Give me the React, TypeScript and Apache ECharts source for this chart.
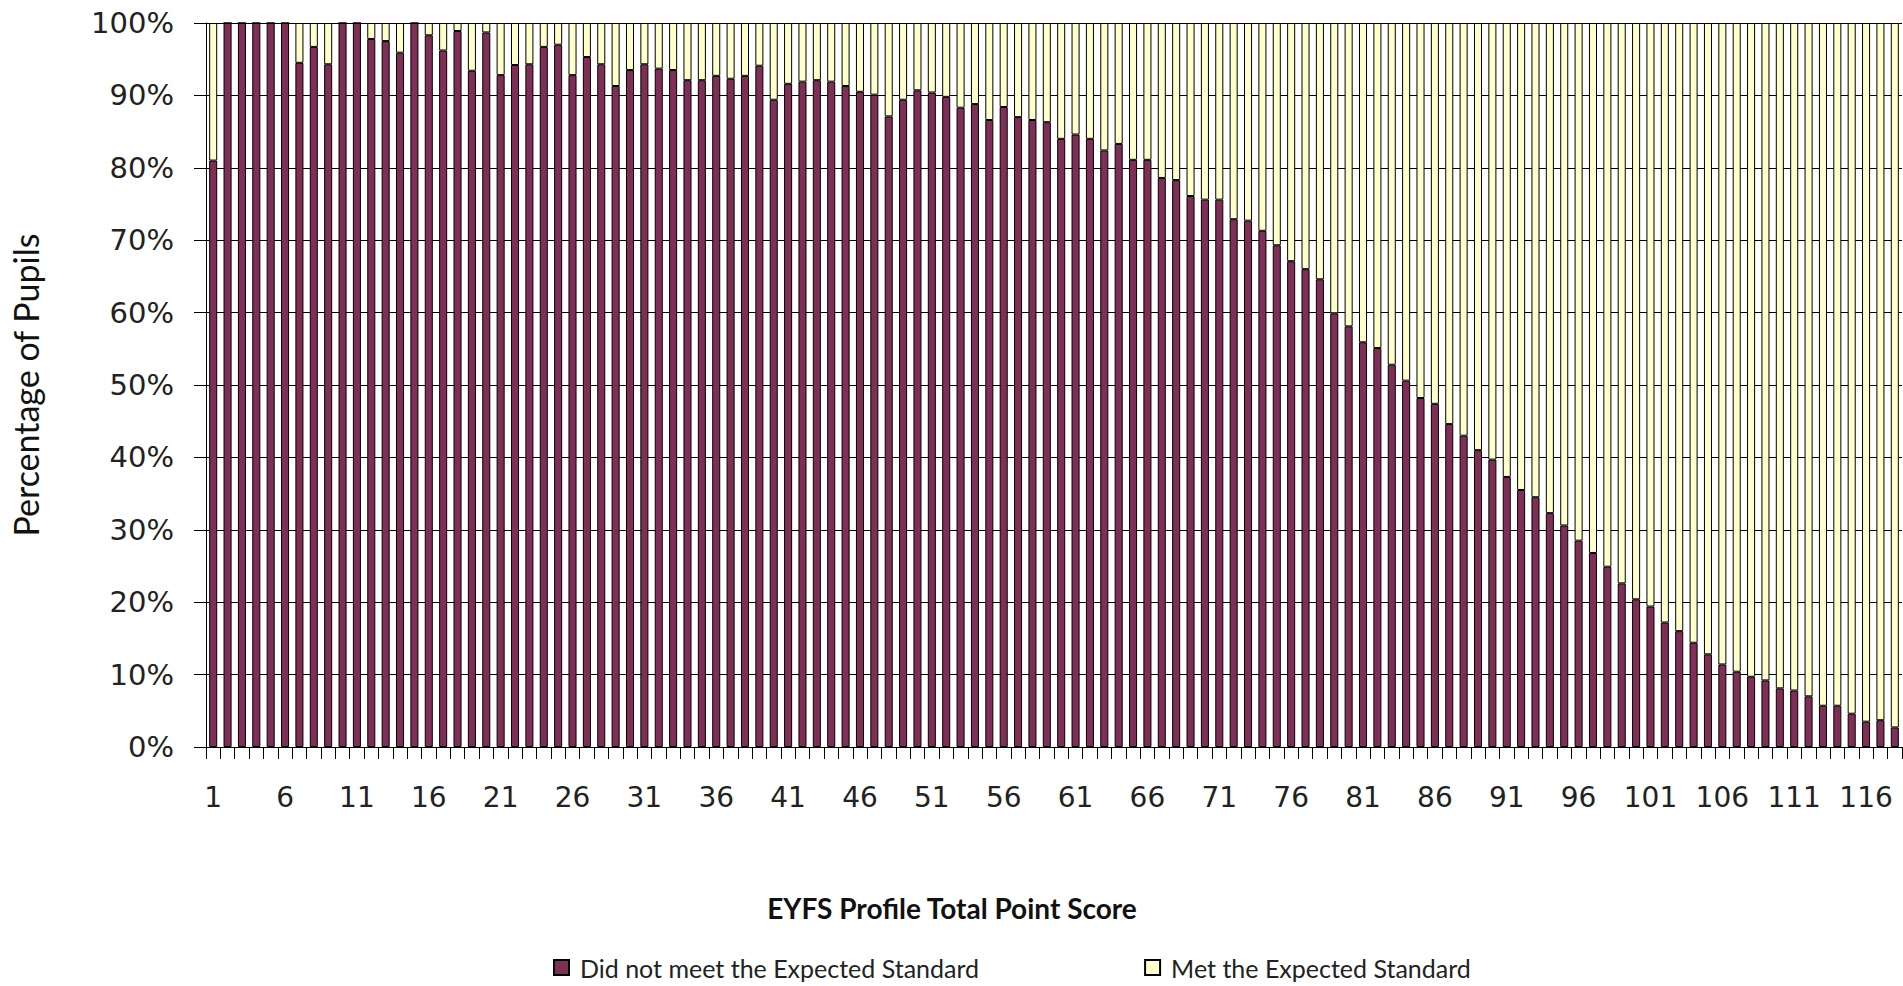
import React, { useEffect, useRef } from "react";
import * as echarts from "echarts";

// EYFS Profile total point score categories 1..118
const scores: string[] = Array.from({ length: 118 }, (_, i) => String(i + 1));

// Percentage of pupils who did not meet the expected standard
const didNotMeet: number[] = [
  81.0, 100, 100, 100, 100, 100, 94.5, 96.7, 94.3, 100,
  100, 97.8, 97.5, 95.9, 100, 98.3, 96.2, 98.9, 93.4, 98.7,
  92.8, 94.2, 94.3, 96.7, 97.0, 92.8, 95.3, 94.3, 91.3, 93.5,
  94.3, 93.7, 93.5, 92.1, 92.1, 92.7, 92.3, 92.7, 94.1, 89.4,
  91.6, 91.9, 92.1, 91.9, 91.3, 90.5, 90.1, 87.1, 89.4, 90.7,
  90.4, 89.8, 88.3, 88.8, 86.6, 88.4, 87.0, 86.6, 86.3, 84.0,
  84.6, 84.0, 82.4, 83.3, 81.1, 81.1, 78.6, 78.3, 76.1, 75.6,
  75.6, 72.9, 72.7, 71.3, 69.3, 67.1, 66.0, 64.6, 59.9, 58.1,
  55.9, 55.1, 52.8, 50.6, 48.2, 47.4, 44.6, 43.0, 41.0, 39.7,
  37.3, 35.5, 34.5, 32.3, 30.6, 28.5, 26.8, 24.9, 22.6, 20.4,
  19.4, 17.2, 16.0, 14.4, 12.8, 11.4, 10.4, 9.7, 9.2, 8.1,
  7.8, 7.0, 5.7, 5.7, 4.6, 3.5, 3.7, 2.7,
];

// Percentage of pupils who met the expected standard
const metStandard: number[] = [
  19.0, 0, 0, 0, 0, 0, 5.5, 3.3, 5.7, 0,
  0, 2.2, 2.5, 4.1, 0, 1.7, 3.8, 1.1, 6.6, 1.3,
  7.2, 5.8, 5.7, 3.3, 3.0, 7.2, 4.7, 5.7, 8.7, 6.5,
  5.7, 6.3, 6.5, 7.9, 7.9, 7.3, 7.7, 7.3, 5.9, 10.6,
  8.4, 8.1, 7.9, 8.1, 8.7, 9.5, 9.9, 12.9, 10.6, 9.3,
  9.6, 10.2, 11.7, 11.2, 13.4, 11.6, 13.0, 13.4, 13.7, 16.0,
  15.4, 16.0, 17.6, 16.7, 18.9, 18.9, 21.4, 21.7, 23.9, 24.4,
  24.4, 27.1, 27.3, 28.7, 30.7, 32.9, 34.0, 35.4, 40.1, 41.9,
  44.1, 44.9, 47.2, 49.4, 51.8, 52.6, 55.4, 57.0, 59.0, 60.3,
  62.7, 64.5, 65.5, 67.7, 69.4, 71.5, 73.2, 75.1, 77.4, 79.6,
  80.6, 82.8, 84.0, 85.6, 87.2, 88.6, 89.6, 90.3, 90.8, 91.9,
  92.2, 93.0, 94.3, 94.3, 95.4, 96.5, 96.3, 97.3,
];

const seriesNames = ["Did not meet the Expected Standard", "Met the Expected Standard"];
const xTitle = "EYFS Profile Total Point Score";
const yTitle = "Percentage of Pupils";

export default function App() {
  const ref = useRef<HTMLDivElement>(null);

  useEffect(() => {
    if (!ref.current) return;
    const chart = echarts.init(ref.current, null, { renderer: "svg" });
    const purple = "#7F2F55";
    const yellow = "#FFFFCC";
    const labelFont = "'DejaVu Sans', Verdana, sans-serif";
    const titleFont = "Lato, 'Open Sans', sans-serif";
    chart.setOption({
      animation: false,
      backgroundColor: "#ffffff",
      grid: { left: 204, right: 1, top: 23, bottom: 239, containLabel: false },
      legend: {
        data: seriesNames,
        bottom: 1,
        left: 548,
        itemGap: 165,
        itemWidth: 15,
        itemHeight: 15,
        icon: "rect",
        textStyle: { fontFamily: titleFont, fontSize: 25, color: "#222", padding: [0, 0, 0, 6] },
      },
      graphic: [
        {
          type: "text",
          x: 952,
          y: 908,
          style: {
            text: xTitle,
            textAlign: "center",
            textVerticalAlign: "middle",
            fontFamily: titleFont,
            fontSize: 28,
            fontWeight: "bold",
            fill: "#111",
          },
        },
      ],
      xAxis: {
        type: "category",
        data: scores,
        boundaryGap: true,
        axisLine: { show: true, lineStyle: { color: "#000", width: 1 } },
        axisTick: { show: true, interval: 0, length: 12, lineStyle: { color: "#000" } },
        axisLabel: {
          interval: 4,
          fontFamily: labelFont,
          fontSize: 28,
          color: "#222",
          margin: 36,
        },
        splitLine: { show: false },
      },
      yAxis: {
        type: "value",
        min: 0,
        max: 100,
        interval: 10,
        name: yTitle,
        nameLocation: "middle",
        nameGap: 164,
        nameTextStyle: { fontFamily: titleFont, fontSize: 34, color: "#111" },
        axisLine: { show: true, lineStyle: { color: "#000", width: 1 } },
        axisTick: { show: true, length: 12, lineStyle: { color: "#000" } },
        axisLabel: {
          formatter: "{value}%",
          fontFamily: labelFont,
          fontSize: 29,
          color: "#222",
          margin: 32,
        },
        splitLine: { show: true, lineStyle: { color: "#000", width: 1 } },
      },
      series: [
        {
          name: seriesNames[0],
          type: "bar",
          stack: "total",
          data: didNotMeet,
          barWidth: "56%",
          itemStyle: { color: purple, borderColor: "#000", borderWidth: 1 },
        },
        {
          name: seriesNames[1],
          type: "bar",
          stack: "total",
          data: metStandard,
          barWidth: "56%",
          itemStyle: { color: yellow, borderColor: "#000", borderWidth: 1 },
        },
      ],
    });
    return () => chart.dispose();
  }, []);

  return (
    <div
      ref={ref}
      style={{ position: "fixed", left: 0, top: 0, width: 1903, height: 986, background: "#fff" }}
    />
  );
}
